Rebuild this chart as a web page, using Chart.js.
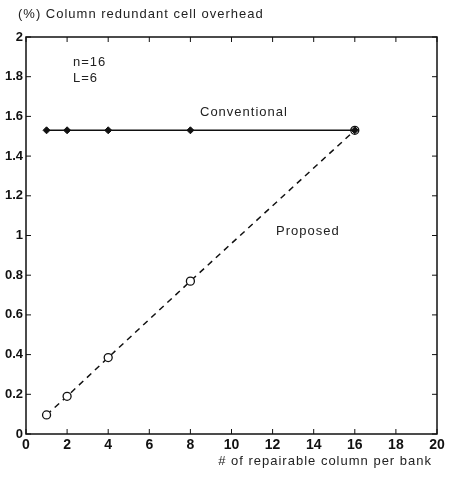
<!DOCTYPE html>
<html>
<head>
<meta charset="utf-8">
<script src="https://cdn.jsdelivr.net/npm/chart.js@4/dist/chart.umd.min.js"></script>
<style>
  html, body { margin: 0; padding: 0; background: #fff; }
  #wrap { width: 458px; height: 487px; position: relative; }
</style>
</head>
<body>
<div id="wrap"><canvas id="overheadChart"></canvas></div>
<script>
// data
var repairCols = [1, 2, 4, 8, 16];
var conventional = [1.53, 1.53, 1.53, 1.53, 1.53];
var proposed = [0.096, 0.19, 0.385, 0.77, 1.53];
var xTicks = [0, 2, 4, 6, 8, 10, 12, 14, 16, 18, 20];
var yTicks = [0, 0.2, 0.4, 0.6, 0.8, 1, 1.2, 1.4, 1.6, 1.8, 2];

function toPoints(xs, ys) {
    return xs.map(function (x, i) { return { x: x, y: ys[i] }; });
}

var font = '"Liberation Sans", Arial, sans-serif';

// box, inward ticks on all four sides, and the text annotations
var framePlugin = {
    id: 'frame',
    afterDraw: function (chart) {
        var c = chart.ctx;
        var a = chart.chartArea;
        var sx = chart.scales.x, sy = chart.scales.y;
        c.save();
        c.strokeStyle = '#111';
        c.lineWidth = 1.5;
        c.strokeRect(a.left, a.top, a.right - a.left, a.bottom - a.top);
        c.lineWidth = 1;
        c.beginPath();
        xTicks.forEach(function (v) {
            var px = sx.getPixelForValue(v);
            c.moveTo(px, a.bottom); c.lineTo(px, a.bottom - 5);
            c.moveTo(px, a.top); c.lineTo(px, a.top + 5);
        });
        yTicks.forEach(function (v) {
            var py = sy.getPixelForValue(v);
            c.moveTo(a.left, py); c.lineTo(a.left + 5, py);
            c.moveTo(a.right, py); c.lineTo(a.right - 5, py);
        });
        c.stroke();

        c.fillStyle = '#222';
        c.font = '13px ' + font;
        c.letterSpacing = '1px';
        c.textBaseline = 'middle';
        c.textAlign = 'left';
        c.fillText('(%) Column redundant cell overhead', 18, 14);
        c.fillText('n=16', 73, 62);
        c.fillText('L=6', 73, 78);
        c.fillText('Conventional', 200, 112);
        c.fillText('Proposed', 276, 231);
        c.textAlign = 'right';
        c.fillText('# of repairable column per bank', 432, 461);
        c.restore();
    }
};

document.addEventListener('DOMContentLoaded', function () {
    var ctx = document.getElementById('overheadChart').getContext('2d');
    new Chart(ctx, {
        type: 'scatter',
        data: {
            datasets: [{
                label: 'Conventional',
                data: toPoints(repairCols, conventional),
                showLine: true,
                borderColor: '#111',
                backgroundColor: '#111',
                borderWidth: 1.5,
                pointStyle: 'rectRot',
                pointRadius: 3.5,
                pointBorderWidth: 1
            }, {
                label: 'Proposed',
                data: toPoints(repairCols, proposed),
                showLine: true,
                borderColor: '#111',
                borderWidth: 1.5,
                borderDash: [6, 5],
                backgroundColor: '#fff',
                pointStyle: 'circle',
                pointRadius: 4,
                pointBorderWidth: 1.3
            }]
        },
        options: {
            responsive: true,
            maintainAspectRatio: false,
            animation: false,
            layout: { padding: { left: 0, top: 37, right: 21, bottom: 0 } },
            plugins: {
                legend: { display: false },
                tooltip: { enabled: false }
            },
            scales: {
                x: {
                    type: 'linear',
                    min: 0, max: 20,
                    afterBuildTicks: function (s) { s.ticks = xTicks.map(function (v) { return { value: v }; }); },
                    afterFit: function (s) { s.height = 53; },
                    grid: { display: false, drawTicks: false },
                    border: { display: false },
                    ticks: {
                        color: '#111', padding: 3, maxRotation: 0,
                        font: { family: font, size: 14, weight: 'bold' },
                        callback: function (v) { return String(v); }
                    }
                },
                y: {
                    type: 'linear',
                    min: 0, max: 2,
                    afterBuildTicks: function (s) { s.ticks = yTicks.map(function (v) { return { value: v }; }); },
                    afterFit: function (s) { s.width = 26; },
                    grid: { display: false, drawTicks: false },
                    border: { display: false },
                    ticks: {
                        color: '#111', padding: 3,
                        font: { family: font, size: 13, weight: 'bold' },
                        callback: function (v) { return String(v); }
                    }
                }
            }
        },
        plugins: [framePlugin]
    });
});
</script>
</body>
</html>
